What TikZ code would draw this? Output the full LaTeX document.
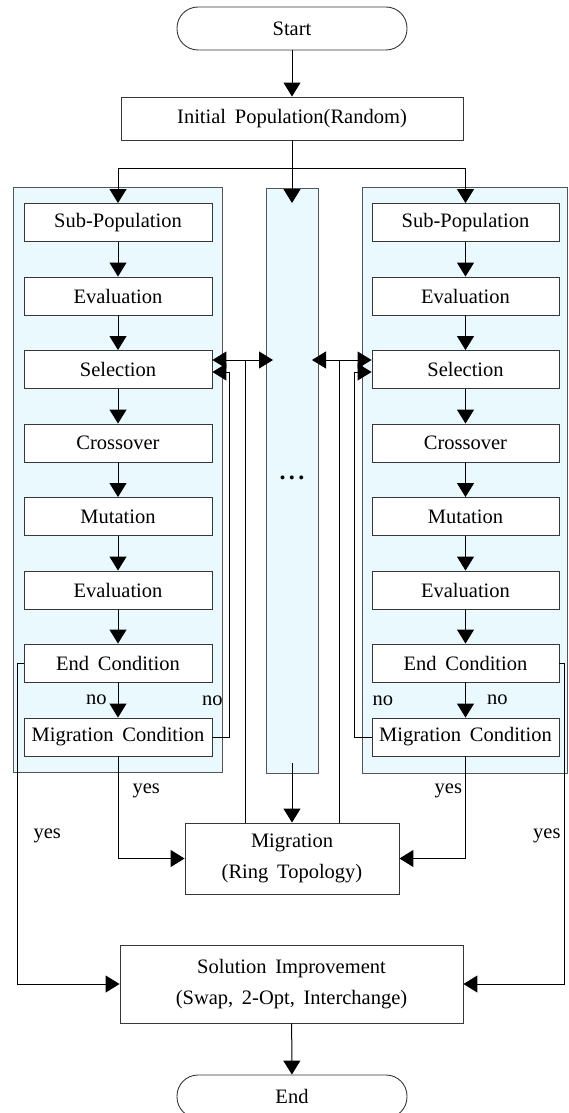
\documentclass[tikz,border=0pt]{standalone}
\usepackage{fontspec}
\setmainfont{Liberation Serif}[WordSpace=1.7]
\usetikzlibrary{arrows.meta}
\definecolor{poolfill}{RGB}{234,249,253}
\definecolor{edge}{RGB}{55,55,55}

\tikzset{
  stepbox/.style={draw=edge, fill=white, line width=0.9pt, minimum width=188pt, minimum height=38pt, inner sep=0pt},
  termbox/.style={draw=edge, fill=white, line width=0.9pt, rounded corners=21pt, minimum width=230pt, minimum height=43pt},
  pool/.style={draw=edge!85, fill=poolfill, line width=0.9pt, inner sep=0pt},
  flow/.style={-{Triangle[length=14pt,width=17pt]}, line width=1pt},
  twoway/.style={{Triangle[length=14pt,width=17pt]}-{Triangle[length=14pt,width=17pt]}, line width=1pt},
  tag/.style={inner sep=0pt}
}

\begin{document}
\begin{tikzpicture}[x=1pt, y=-1pt, font=\fontsize{20.5}{31}\selectfont]
  \useasboundingbox (0,0) rectangle (568,1113);
  % islands
  \draw (117.5,479.5) node[pool, minimum width=209pt, minimum height=585pt] (lpool) {}
   (292,480.5) node[pool, minimum width=52pt, minimum height=585pt] (mpool) {}
   (464.5,480) node[pool, minimum width=205pt, minimum height=586pt] (rpool) {};
  \node[font=\fontsize{24}{30}\bfseries] (dots) at (292,478) {.\hspace{3.5pt}.\hspace{3.5pt}.};

  \draw (292,28.5) node[termbox] (start) {Start}
   (292,118.5) node[stepbox, minimum width=342pt, minimum height=43pt] (init) {Initial Population(Random)};

  % left island
  \draw (118,222.5) node[stepbox] (lsub) {Sub-Population}
   (118,296) node[stepbox] (leval) {Evaluation}
   (118,369.5) node[stepbox] (lsel) {Selection}
   (118,443) node[stepbox] (lcross) {Crossover}
   (118,516.5) node[stepbox] (lmut) {Mutation}
   (118,590) node[stepbox] (leval2) {Evaluation}
   (118,663) node[stepbox] (lend) {End Condition}
   (118,737) node[stepbox] (lmig) {Migration Condition};

  % right island
  \draw (465.5,222.5) node[stepbox, minimum width=187pt] (rsub) {Sub-Population}
   (465.5,296) node[stepbox, minimum width=187pt] (reval) {Evaluation}
   (465.5,369.5) node[stepbox, minimum width=187pt] (rsel) {Selection}
   (465.5,443) node[stepbox, minimum width=187pt] (rcross) {Crossover}
   (465.5,516.5) node[stepbox, minimum width=187pt] (rmut) {Mutation}
   (465.5,590) node[stepbox, minimum width=187pt] (reval2) {Evaluation}
   (465.5,663) node[stepbox, minimum width=187pt] (rend) {End Condition}
   (465.5,737) node[stepbox, minimum width=187pt] (rmig) {Migration Condition};

  \draw (292,858.5) node[stepbox, minimum width=214pt, minimum height=71pt, align=center] (migr) {Migration\\(Ring Topology)}
   (291.5,984) node[stepbox, minimum width=343pt, minimum height=78pt, align=center] (solu) {Solution Improvement\\(Swap, 2-Opt, Interchange)}
   (292,1096.5) node[termbox] (finish) {End};

  \coordinate (split) at (292,168);
  \coordinate (mtop) at (292,203);
  \coordinate (mbot) at (292,763);
  \coordinate (lport) at (273,360);
  \coordinate (rport) at (312,360);
  \coordinate (lhub) at (245,360);
  \coordinate (rhub) at (339,360);

  \draw[flow] (start) -- (init);
  \draw[line width=1pt] (init) -- (split);
  \draw[flow] (split) -| (lsub);
  \draw[flow] (split) -- (mtop);
  \draw[flow] (split) -| (rsub);

  \draw[flow] (lsub) -- (leval);
  \draw[flow] (leval) -- (lsel);
  \draw[flow] (lsel) -- (lcross);
  \draw[flow] (lcross) -- (lmut);
  \draw[flow] (lmut) -- (leval2);
  \draw[flow] (leval2) -- (lend);
  \draw[flow] (lend) -- (lmig) node[tag, midway, left=11pt] (lno) {no};

  \draw[flow] (rsub) -- (reval);
  \draw[flow] (reval) -- (rsel);
  \draw[flow] (rsel) -- (rcross);
  \draw[flow] (rcross) -- (rmut);
  \draw[flow] (rmut) -- (reval2);
  \draw[flow] (reval2) -- (rend);
  \draw[flow] (rend) -- (rmig) node[tag, midway, right=21pt] (rno) {no};

  % migration loops
  \draw[flow] (lmig.east) -- (229,737) |- node[tag, pos=0.05, left=6pt] (lno2) {no} ([yshift=-2.5pt]lsel.east);
  \draw[flow] (rmig.west) -- (354,737) |- node[tag, pos=0.05, right=18pt] (rno2) {no} ([yshift=-2.5pt]rsel.west);
  \draw[twoway] ([yshift=9.5pt]lsel.east) -- (lport);
  \draw[twoway] (rport) -- ([yshift=9.5pt]rsel.west);
  \draw[line width=1pt] (lhub) -- (lhub |- migr.north);
  \draw[line width=1pt] (rhub) -- (rhub |- migr.north);
  \draw[flow] (mbot) -- (migr);

  \draw[flow] (lmig) |- node[tag, pos=0.17, right=14pt] (lyes) {yes} (migr);
  \draw[flow] (rmig) |- node[tag, pos=0.17, left=3pt] (ryes) {yes} (migr);
  \draw[flow] (lend.west) -- (17,663) |- node[tag, pos=0.27, right=16pt] (lyes2) {yes} (solu);
  \draw[flow] (rend.east) -- (564,663) |- node[tag, pos=0.27, left=3pt] (ryes2) {yes} (solu);
  \draw[flow] (solu) -- (finish);
\end{tikzpicture}
\end{document}
